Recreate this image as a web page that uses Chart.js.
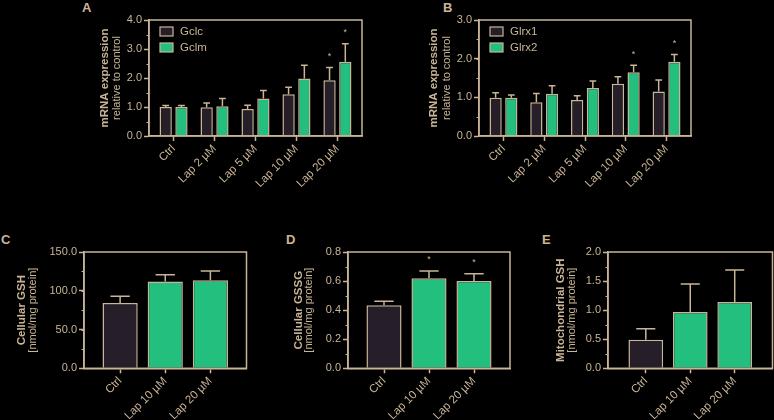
<!DOCTYPE html>
<html>
<head>
<meta charset="utf-8">
<script src="https://cdn.jsdelivr.net/npm/chart.js@4/dist/chart.umd.min.js"></script>
<style>
  html, body { margin: 0; padding: 0; background: #000; }
  #figure { position: relative; width: 774px; height: 420px; background: #000; overflow: hidden; }
  .panel { position: absolute; }
  .letter { position: absolute; color: #c9b597; font: bold 13px 'Liberation Sans', Arial, sans-serif; line-height: 13px; }
</style>
</head>
<body>
<div id="figure">
  <div class="letter" style="left:82px;top:1px">A</div>
  <div class="letter" style="left:443px;top:1px">B</div>
  <div class="letter" style="left:1px;top:233px">C</div>
  <div class="letter" style="left:286px;top:233px">D</div>
  <div class="letter" style="left:542px;top:233px">E</div>
  <canvas id="chartA" class="panel" style="left:60px;top:0px" width="320" height="215"></canvas>
  <canvas id="chartB" class="panel" style="left:420px;top:0px" width="300" height="215"></canvas>
  <canvas id="chartC" class="panel" style="left:0px;top:225px" width="260" height="195"></canvas>
  <canvas id="chartD" class="panel" style="left:260px;top:225px" width="265" height="195"></canvas>
  <canvas id="chartE" class="panel" style="left:525px;top:225px" width="249" height="195"></canvas>
</div>
<script>
const TAN = '#c9b597';
const DARK = '#261e29';
const GREEN = '#22bf7e';

// panel A - Gclc / Gclm mRNA
const doseLabels = ['Ctrl', 'Lap 2 µM', 'Lap 5 µM', 'Lap 10 µM', 'Lap 20 µM'];
const gclcMean = [1.00, 0.99, 0.93, 1.44, 1.92];
const gclcErr = [0.05, 0.15, 0.13, 0.24, 0.44];
const gclcSig = [0, 0, 0, 0, 1];
const gclmMean = [1.00, 1.03, 1.29, 1.98, 2.56];
const gclmErr = [0.05, 0.26, 0.28, 0.46, 0.62];
const gclmSig = [0, 0, 0, 0, 1];

// panel B - Glrx1 / Glrx2 mRNA
const glrx1Mean = [0.99, 0.87, 0.93, 1.35, 1.15];
const glrx1Err = [0.13, 0.23, 0.11, 0.18, 0.30];
const glrx1Sig = [0, 0, 0, 0, 0];
const glrx2Mean = [0.99, 1.09, 1.24, 1.65, 1.92];
const glrx2Err = [0.07, 0.21, 0.18, 0.18, 0.19];
const glrx2Sig = [0, 0, 0, 1, 1];

// panels C, D, E
const treatLabels = ['Ctrl', 'Lap 10 µM', 'Lap 20 µM'];
const gshMean = [84.3, 111.8, 113.5];
const gshErr = [8.7, 9.0, 12.0];
const gshSig = [0, 0, 0];
const gssgMean = [0.433, 0.62, 0.60];
const gssgErr = [0.028, 0.05, 0.05];
const gssgSig = [0, 1, 1];
const mitoMean = [0.49, 0.97, 1.14];
const mitoErr = [0.19, 0.48, 0.55];
const mitoSig = [0, 0, 0];

Chart.defaults.font.family = "'Liberation Sans', Arial, sans-serif";
Chart.defaults.color = TAN;

const panelDecor = {
  id: 'panelDecor',
  afterDatasetsDraw(chart, args, opts) {
    const ctx = chart.ctx;
    const area = chart.chartArea;
    const yScale = chart.scales.y;
    ctx.save();
    // frame
    ctx.strokeStyle = TAN;
    ctx.lineWidth = 1.5;
    ctx.strokeRect(area.left, area.top, area.right - area.left, area.bottom - area.top);
    // minor ticks
    ctx.lineWidth = 1;
    for (let v = opts.minorStep; v < yScale.max; v += opts.minorStep) {
      const y = Math.round(yScale.getPixelForValue(v)) + 0.5;
      ctx.beginPath();
      ctx.moveTo(area.left - 2.5, y);
      ctx.lineTo(area.left, y);
      ctx.stroke();
    }
    // error bars and asterisks
    chart.data.datasets.forEach((ds, i) => {
      const meta = chart.getDatasetMeta(i);
      meta.data.forEach((bar, j) => {
        const top = ds.data[j] + ds.errors[j];
        const yTop = yScale.getPixelForValue(top);
        const cap = bar.width * 0.55;
        ctx.strokeStyle = TAN;
        ctx.lineWidth = 1.5;
        ctx.beginPath();
        ctx.moveTo(bar.x, bar.y);
        ctx.lineTo(bar.x, yTop);
        ctx.moveTo(bar.x - cap / 2, yTop);
        ctx.lineTo(bar.x + cap / 2, yTop);
        ctx.stroke();
        if (ds.sig[j]) {
          ctx.fillStyle = TAN;
          ctx.font = "9px 'Liberation Sans', Arial, sans-serif";
          ctx.textAlign = 'center';
          ctx.textBaseline = 'middle';
          ctx.fillText('*', bar.x, yTop - 11);
        }
      });
    });
    // in-plot legend
    if (opts.legend) {
      chart.data.datasets.forEach((ds, i) => {
        const bx = area.left + 11;
        const by = area.top + 7 + i * 16;
        ctx.fillStyle = ds.backgroundColor;
        ctx.fillRect(bx, by, 13, 9);
        ctx.strokeStyle = TAN;
        ctx.lineWidth = 1.2;
        ctx.strokeRect(bx, by, 13, 9);
        ctx.fillStyle = TAN;
        ctx.font = "11.5px 'Liberation Sans', Arial, sans-serif";
        ctx.textAlign = 'left';
        ctx.textBaseline = 'middle';
        ctx.fillText(ds.label, bx + 20, by + 5);
      });
    }
    // y axis title, bold line + normal line
    const midY = (area.top + area.bottom) / 2;
    ctx.fillStyle = TAN;
    ctx.textAlign = 'center';
    ctx.textBaseline = 'middle';
    ctx.translate(opts.titleX1, midY);
    ctx.rotate(-Math.PI / 2);
    ctx.font = "bold 11.5px 'Liberation Sans', Arial, sans-serif";
    ctx.fillText(opts.titleBold, 0, 0);
    ctx.font = "11px 'Liberation Sans', Arial, sans-serif";
    ctx.fillText(opts.titleNormal, 0, opts.titleX2 - opts.titleX1);
    ctx.restore();
  }
};

function makePanel(canvasId, box, labels, datasets, yMax, yStep, minorStep, pad, title, legend) {
  const canvas = document.getElementById(canvasId);
  const n = labels.length;
  const config = {
    type: 'bar',
    data: { labels, datasets },
    options: {
      responsive: false,
      animation: false,
      layout: { padding: { top: box.top, right: canvas.width - box.right, left: 0, bottom: 0 } },
      plugins: {
        legend: { display: false },
        tooltip: { enabled: false },
        panelDecor: {
          minorStep,
          legend,
          titleBold: title[0],
          titleNormal: title[1],
          titleX1: title[2],
          titleX2: title[3]
        }
      },
      scales: {
        x: {
          offset: true,
          afterBuildTicks: s => { s._startValue = -pad; s._valueRange = n - 1 + 2 * pad; },
          afterFit: s => { s.height = canvas.height - box.bottom; },
          grid: { display: true, offset: false, drawOnChartArea: false, tickLength: 5, tickColor: TAN, tickWidth: 1.5 },
          border: { display: true, color: TAN, width: 1.5 },
          ticks: { color: TAN, font: { size: 11.5 }, minRotation: 45, maxRotation: 45, autoSkip: false, padding: 1 }
        },
        y: {
          min: 0,
          max: yMax,
          afterFit: s => { s.width = box.left; },
          grid: { display: true, drawOnChartArea: false, tickLength: 5, tickColor: TAN, tickWidth: 1.5 },
          border: { display: true, color: TAN, width: 1.5 },
          ticks: { stepSize: yStep, color: TAN, font: { size: 11 }, padding: 2, callback: v => v.toFixed(1) }
        }
      }
    },
    plugins: [panelDecor]
  };
  return new Chart(canvas.getContext('2d'), config);
}

function pairDataset(label, color, data, errors, sig) {
  return {
    label, data, errors, sig,
    backgroundColor: color,
    borderColor: TAN,
    borderWidth: 1.5,
    categoryPercentage: 0.77,
    barPercentage: 0.78
  };
}

function singleDataset(label, data, errors, sig) {
  return {
    label, data, errors, sig,
    backgroundColor: data.map((v, i) => i === 0 ? DARK : GREEN),
    borderColor: TAN,
    borderWidth: 1.5,
    categoryPercentage: 1.0,
    barPercentage: 0.78
  };
}

makePanel('chartA', { left: 89, top: 20, right: 302, bottom: 136 }, doseLabels, [
  pairDataset('Gclc', DARK, gclcMean, gclcErr, gclcSig),
  pairDataset('Gclm', GREEN, gclmMean, gclmErr, gclmSig)
], 4, 1, 0.5, 0.6, ['mRNA expression', 'relative to control', 44.5, 57], true);

makePanel('chartB', { left: 59, top: 20, right: 271, bottom: 136 }, doseLabels, [
  pairDataset('Glrx1', DARK, glrx1Mean, glrx1Err, glrx1Sig),
  pairDataset('Glrx2', GREEN, glrx2Mean, glrx2Err, glrx2Sig)
], 3, 1, 0.5, 0.6, ['mRNA expression', 'relative to control', 14, 27], true);

makePanel('chartC', { left: 84, top: 27, right: 246.5, bottom: 143.3 }, treatLabels, [
  singleDataset('Cellular GSH', gshMean, gshErr, gshSig)
], 150, 50, 25, 0.8, ['Cellular GSH', '[nmol/mg protein]', 21.5, 33], false);

makePanel('chartD', { left: 88, top: 27, right: 250, bottom: 143.3 }, treatLabels, [
  singleDataset('Cellular GSSG', gssgMean, gssgErr, gssgSig)
], 0.8, 0.2, 0.1, 0.8, ['Cellular GSSG', '[nmol/mg protein]', 38.5, 48.5], false);

makePanel('chartE', { left: 83, top: 27, right: 247.5, bottom: 143.3 }, treatLabels, [
  singleDataset('Mitochondrial GSH', mitoMean, mitoErr, mitoSig)
], 2, 0.5, 0.25, 0.85, ['Mitochondrial GSH', '[nmol/mg protein]', 36, 46.5], false);
</script>
</body>
</html>
